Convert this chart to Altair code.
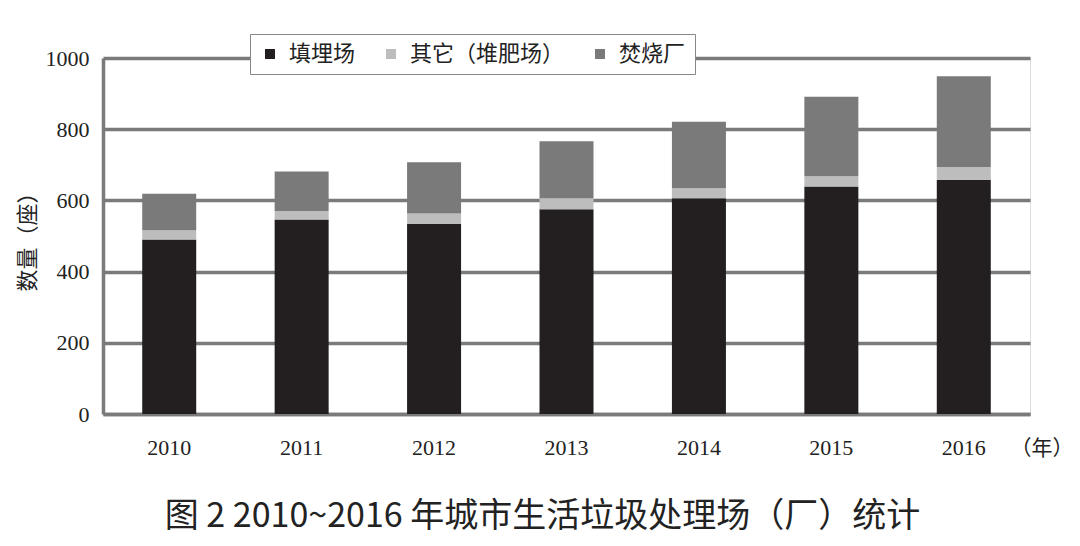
import altair as alt
import pandas as pd

years = ["2010", "2011", "2012", "2013", "2014", "2015", "2016"]
series = ["填埋场", "其它（堆肥场）", "焚烧厂"]
landfill = [490, 546, 534, 575, 606, 639, 658]
other = [26, 24, 29, 31, 28, 29, 36]
incineration = [103, 111, 144, 160, 187, 223, 255]
colors = ["#231f20", "#bdbdbd", "#7a7a7a"]

rows = []
for i, y in enumerate(years):
    for k, (name, vals) in enumerate(zip(series, [landfill, other, incineration])):
        rows.append({"year": y, "type": name, "value": vals[i], "ord": k})
df = pd.DataFrame(rows)

SANS = "Noto Sans CJK SC"
SERIF = "Liberation Serif"
GRID = "#7a7a7a"

chart = alt.Chart(df).mark_bar(size=54).encode(
    x=alt.X("year:N", sort=years,
            scale=alt.Scale(paddingInner=0.59, paddingOuter=0.295),
            axis=alt.Axis(title="（年）", titleAngle=0, titleX=907, titleY=34,
                          titleAlign="left", titleBaseline="middle",
                          titleFont=SANS, titleFontSize=21, titleFontWeight="normal",
                          titleColor="#222",
                          labelAngle=0, labelFont=SERIF, labelFontSize=22,
                          labelColor="#222", labelPadding=23, ticks=False,
                          domainColor=GRID, domainWidth=3.5)),
    y=alt.Y("value:Q", stack="zero",
            scale=alt.Scale(domain=[0, 1000], nice=False),
            axis=alt.Axis(title="数量（座）", values=[0, 200, 400, 600, 800, 1000],
                          format="d",
                          titleFont=SANS, titleFontSize=22, titleFontWeight="normal",
                          titleColor="#222", titlePadding=6,
                          labelFont=SERIF, labelFontSize=22, labelColor="#222",
                          labelPadding=14, ticks=False,
                          grid=True, gridColor=GRID, gridWidth=3.5,
                          domainColor=GRID, domainWidth=3.5)),
    color=alt.Color("type:N", sort=series,
                    scale=alt.Scale(domain=series, range=colors),
                    legend=alt.Legend(title=None, orient="none", direction="horizontal",
                                      legendX=147, legendY=-24,
                                      symbolType="square", symbolSize=100,
                                      symbolStrokeWidth=0,
                                      labelFont=SANS, labelFontSize=22,
                                      labelColor="#222", labelOffset=8,
                                      columnPadding=24, padding=9,
                                      strokeColor="#888", fillColor="white")),
    order=alt.Order("ord:Q", sort="ascending"),
).properties(
    width=927, height=356,
    autosize=alt.AutoSizeParams(type="none"),
    padding={"left": 95, "top": 50, "right": 42, "bottom": 124},
    title=alt.TitleParams("图 2 2010~2016 年城市生活垃圾处理场（厂）统计",
                          orient="bottom", anchor="middle", dx=-24, offset=42,
                          font=SANS, fontSize=34, fontWeight="normal", color="#222"),
).configure_view(
    stroke=GRID, strokeWidth=3.5
).configure(background="white")

chart.save("out.html", embed_options={"renderer": "svg", "actions": False})
